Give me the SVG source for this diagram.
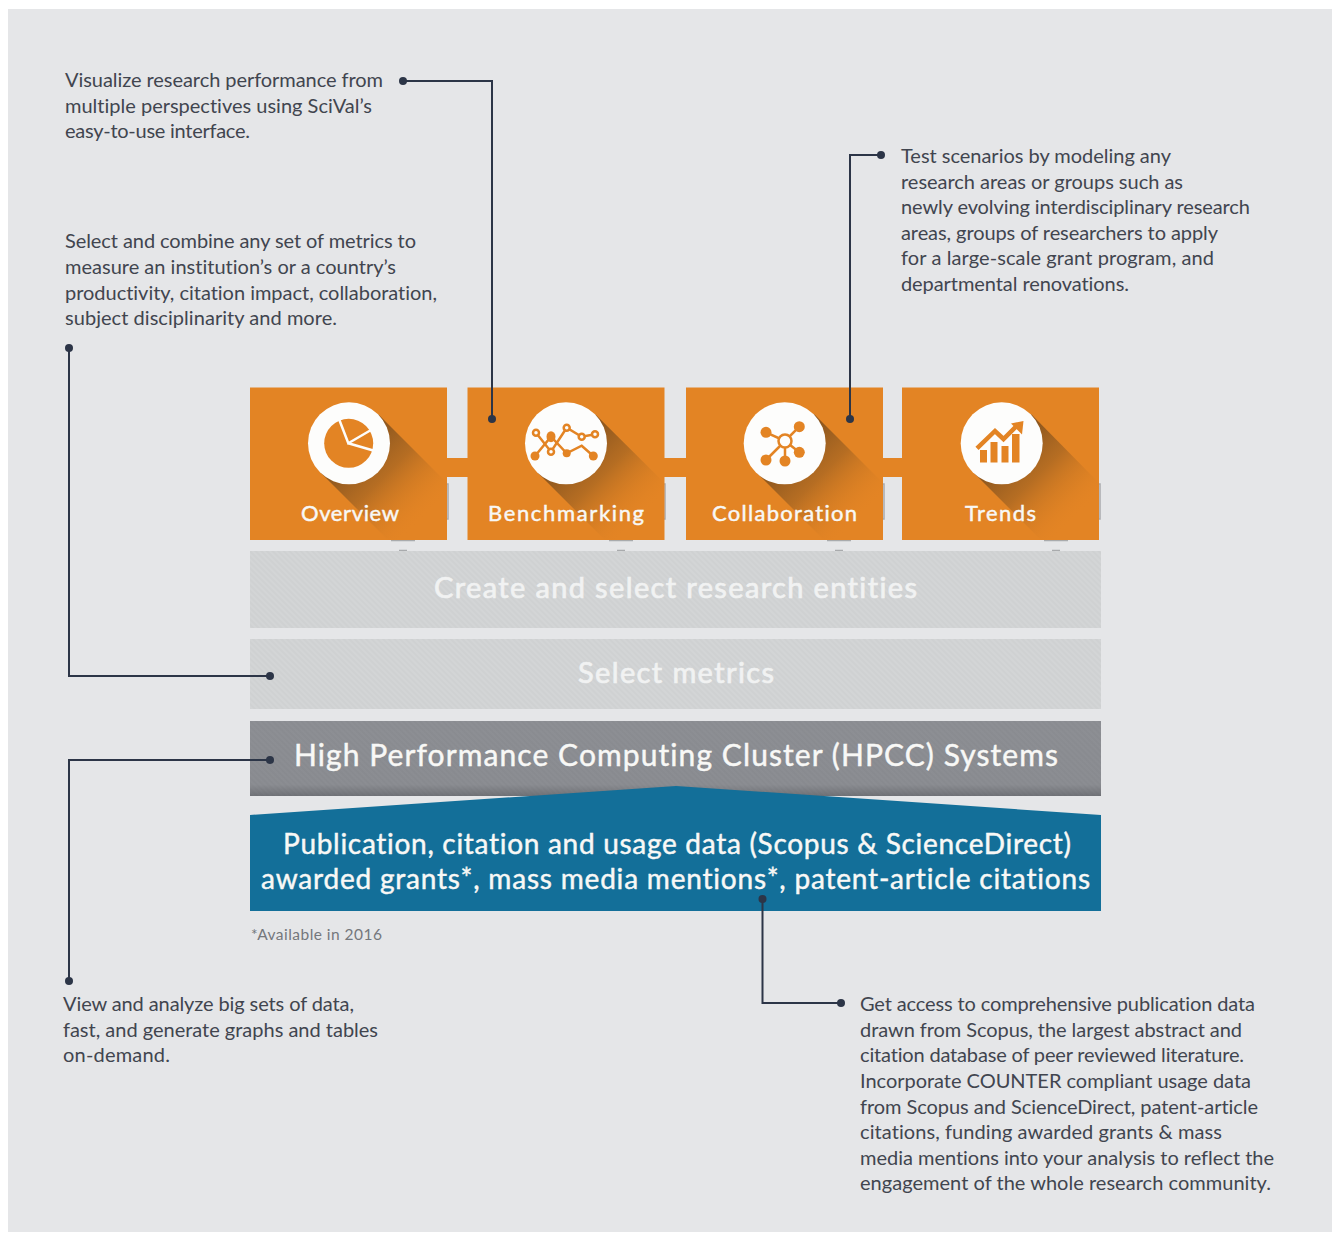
<svg xmlns="http://www.w3.org/2000/svg" width="1332" height="1233" viewBox="0 0 1332 1233">
<style>
text{font-family:"Lato","Noto Sans","Liberation Sans",sans-serif;font-variant-ligatures:none}
.c{font-size:20px;fill:#41454f}
.w{fill:#f8f8f6;stroke:#f8f8f6;stroke-width:.45px}
.t{font-size:22px}
.b{font-size:29px}
.l{fill:#f1f2f2;stroke:#f1f2f2;stroke-width:.7px}
.line{fill:none;stroke:#2c3547;stroke-width:2}
.dot{fill:#2c3547}
.o{fill:none;stroke:#e38424;stroke-width:2.500}
.of{fill:#e38424}
.tile{fill:#e38424}
.mark{fill:none;stroke:#a9abad;stroke-width:1.500}
.disc{fill:#fdfdfc}
</style>
<defs>
<linearGradient id="sh" x1="0" y1="0" x2="1" y2="1">
<stop offset=".22" stop-color="#4f3519" stop-opacity=".68"/>
<stop offset=".5" stop-color="#6b4820" stop-opacity=".38"/>
<stop offset=".82" stop-color="#e38424" stop-opacity="0"/>
</linearGradient>
<pattern id="hatch" width="4" height="4" patternUnits="userSpaceOnUse" patternTransform="rotate(45)">
<rect width="4" height="2" fill="#000" fill-opacity=".02"/>
</pattern>
<linearGradient id="hp" x1="0" y1="0" x2="0" y2="1">
<stop offset="0" stop-color="#8d8f94"/>
<stop offset=".85" stop-color="#8b8d92"/>
<stop offset="1" stop-color="#707277"/>
</linearGradient>
</defs>
<rect x="8" y="9" width="1324" height="1223" fill="#e5e6e8"/>

<g id="marks">
<path class="mark" d="M447 484h1v35h-1M664 484h1v35h-1M883 484h1v35h-1M1099 484h1v35h-1"/>
<path class="mark" d="M391 540.500h24M609 540.500h24M827 540.500h24M1044 540.500h24"/>
<path class="mark" d="M399 550.500h8M617 550.500h8M835 550.500h8M1052 550.500h8"/>
</g>
<g id="strip"><rect class="tile" x="447" y="458" width="455" height="19"/></g>

<g id="overview">
<rect class="tile" x="250" y="387.500" width="197" height="152.500"/>
<polygon fill="url(#sh)" points="378,414 447,483 447,540 388,540 320,472"/>
<circle class="disc" cx="349" cy="443.300" r="41"/>
<circle class="of" cx="348.700" cy="443.300" r="24.500"/>
<path d="M339 419L348.300 443.300L371 430M348.300 443.300L375 451" fill="none" stroke="#fdfdfc" stroke-width="2.500"/>
<text class="w t" x="301" y="521" textLength="98">Overview</text>
</g>

<g id="benchmarking">
<rect class="tile" x="467.500" y="387.500" width="197" height="152.500"/>
<polygon fill="url(#sh)" points="595,414 664.500,483 664.500,540 605,540 537,472"/>
<circle class="disc" cx="566" cy="443.300" r="41"/>
<polyline class="o" points="536,432.700 551,451.700 566.700,427.700 581.700,436.700 595,434.300"/>
<polyline class="o" points="535,456 551,436.700 566.700,453.300 581.700,445.700 593.300,456"/>
<g fill="#fdfdfc" stroke="#e38424" stroke-width="2.500">
<circle cx="536" cy="432.700" r="3"/><circle cx="551" cy="451.700" r="3"/><circle cx="566.700" cy="427.700" r="3"/><circle cx="581.700" cy="436.700" r="3"/><circle cx="595" cy="434.300" r="3"/>
</g>
<g class="of"><circle cx="535" cy="456" r="4.500"/><ellipse cx="551" cy="436.700" rx="4.500" ry="5.500"/><circle cx="566.700" cy="453.300" r="4"/><circle cx="593.300" cy="456" r="4.500"/></g>
<text class="w t" x="488" y="521" textLength="156">Benchmarking</text>
</g>

<g id="collaboration">
<rect class="tile" x="686" y="387.500" width="197" height="152.500"/>
<polygon fill="url(#sh)" points="814,414 883,483 883,540 824,540 756,472"/>
<circle class="disc" cx="784.700" cy="443.300" r="41"/>
<path d="M785 441L766 432.300M785 441L799.300 426.700M785 441L799.300 452.300M785 441L766 460M785 441V461" fill="none" stroke="#e38424" stroke-width="2.500"/>
<g class="of"><circle cx="766" cy="432.300" r="5.500"/><circle cx="799.300" cy="426.700" r="5.500"/><circle cx="799.300" cy="452.300" r="5.500"/><circle cx="766" cy="460" r="5.500"/><circle cx="785" cy="461" r="5.500"/></g>
<circle cx="785" cy="441" r="6.500" fill="#fdfdfc" stroke="#e38424" stroke-width="2.500"/>
<text class="w t" x="712" y="521" textLength="145">Collaboration</text>
</g>

<g id="trends">
<rect class="tile" x="902" y="387.500" width="197" height="152.500"/>
<polygon fill="url(#sh)" points="1031,414 1099,483 1099,540 1041,540 973,472"/>
<circle class="disc" cx="1001.700" cy="443.300" r="41"/>
<g class="of"><rect x="980" y="450" width="7" height="12.500"/><rect x="990.500" y="442" width="7" height="20.500"/><rect x="1001.500" y="446" width="7" height="16.500"/><rect x="1012" y="434" width="7.500" height="28.500"/></g>
<polyline points="977,448.300 995,431 1003.500,439 1017,425.500" fill="none" stroke="#e38424" stroke-width="4.500"/>
<polygon class="of" points="1023.500,421 1011,423.500 1022,434.500"/>
<text class="w t" x="965" y="521" textLength="71">Trends</text>
</g>

<g id="entities">
<rect x="250" y="551" width="851" height="77" fill="#d3d5d6"/>
<rect x="250" y="551" width="851" height="77" fill="url(#hatch)"/>
<text class="b l" x="434" y="598" textLength="483">Create and select research entities</text>
</g>
<g id="metrics">
<rect x="250" y="639" width="851" height="70" fill="#d3d5d6"/>
<rect x="250" y="639" width="851" height="70" fill="url(#hatch)"/>
<text class="b l" x="578" y="683" textLength="196">Select metrics</text>
</g>
<g id="hpcc">
<rect x="250" y="721" width="851" height="75" fill="url(#hp)"/>
<rect x="250" y="721" width="851" height="75" fill="url(#hatch)"/>
<text class="b w" x="294" y="766" textLength="764" style="font-size:30px">High Performance Computing Cluster (HPCC) Systems</text>
</g>
<g id="data">
<polygon fill="#136f99" points="250,815 676,786 1101,815 1101,911 250,911"/>
<text class="b w" x="283" y="854" textLength="788" style="font-size:28px">Publication, citation and usage data (Scopus &amp; ScienceDirect)</text>
<text class="b w" x="261" y="889" textLength="829" style="font-size:28px">awarded grants*, mass media mentions*, patent-article citations</text>
</g>
<text x="251" y="940" textLength="131" font-size="15.500" fill="#74777c">*Available in 2016</text>

<g id="note-visualize" class="c">
<text x="65" y="87" textLength="318">Visualize research performance from</text>
<text x="65" y="113" textLength="307">multiple perspectives using SciVal’s</text>
<text x="65" y="138" textLength="185">easy-to-use interface.</text>
</g>
<g id="note-select" class="c">
<text x="65" y="248" textLength="351">Select and combine any set of metrics to</text>
<text x="65" y="274" textLength="331">measure an institution’s or a country’s</text>
<text x="65" y="300" textLength="372">productivity, citation impact, collaboration,</text>
<text x="65" y="325" textLength="272">subject disciplinarity and more.</text>
</g>
<g id="note-test" class="c">
<text x="901" y="163" textLength="270">Test scenarios by modeling any</text>
<text x="901" y="189" textLength="282">research areas or groups such as</text>
<text x="901" y="214" textLength="349">newly evolving interdisciplinary research</text>
<text x="901" y="240" textLength="317">areas, groups of researchers to apply</text>
<text x="901" y="265" textLength="313">for a large-scale grant program, and</text>
<text x="901" y="291" textLength="228">departmental renovations.</text>
</g>
<g id="note-view" class="c">
<text x="63" y="1011" textLength="291">View and analyze big sets of data,</text>
<text x="63" y="1037" textLength="315">fast, and generate graphs and tables</text>
<text x="63" y="1062" textLength="107">on-demand.</text>
</g>
<g id="note-access" class="c">
<text x="860" y="1011" textLength="395">Get access to comprehensive publication data</text>
<text x="860" y="1037" textLength="382">drawn from Scopus, the largest abstract and</text>
<text x="860" y="1062" textLength="384">citation database of peer reviewed literature.</text>
<text x="860" y="1088" textLength="391">Incorporate COUNTER compliant usage data</text>
<text x="860" y="1114" textLength="398">from Scopus and ScienceDirect, patent-article</text>
<text x="860" y="1139" textLength="362">citations, funding awarded grants &amp; mass</text>
<text x="860" y="1165" textLength="414">media mentions into your analysis to reflect the</text>
<text x="860" y="1190" textLength="411">engagement of the whole research community.</text>
</g>

<g id="connectors">
<path class="line" d="M403 81H492V419"/><circle class="dot" cx="403" cy="81" r="4"/><circle class="dot" cx="492" cy="419" r="4"/>
<path class="line" d="M881 155H850V419"/><circle class="dot" cx="881" cy="155" r="4"/><circle class="dot" cx="850" cy="419" r="4"/>
<path class="line" d="M69 348V676H270"/><circle class="dot" cx="69" cy="348" r="4"/><circle class="dot" cx="270" cy="676" r="4"/>
<path class="line" d="M270 760H69V981"/><circle class="dot" cx="270" cy="760" r="4"/><circle class="dot" cx="69" cy="981" r="4"/>
<path class="line" d="M762.500 899V1003H841"/><circle class="dot" cx="762.500" cy="899" r="4"/><circle class="dot" cx="841" cy="1003" r="4"/>
</g>
</svg>
